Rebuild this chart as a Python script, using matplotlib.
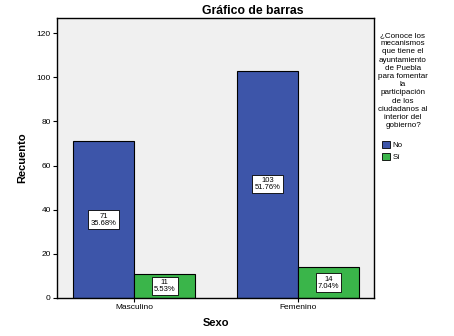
import numpy as np
import matplotlib
matplotlib.use('Agg')
import matplotlib.pyplot as plt
from matplotlib.patches import Patch

plt.rcParams['font.family'] = ['Liberation Sans', 'DejaVu Sans']

categories = ['Masculino', 'Femenino']
no_counts = [71, 103]
si_counts = [11, 14]
no_pct = [35.68, 51.76]
si_pct = [5.53, 7.04]
series_names = ['No', 'Sí']
legend_title = ('¿Conoce los\nmecanismos\nque tiene el\nayuntamiento\nde Puebla\n'
                'para fomentar\nla\nparticipación\nde los\nciudadanos al\n'
                'interior del\ngobierno?')

BLUE = '#3D55A9'
GREEN = '#3AB54A'
PANEL = '#F0F0F0'

fig = plt.figure(figsize=(4.54, 3.36), dpi=100, facecolor='white')
ax = fig.add_axes([57/454, 1 - 298/336, 317/454, 280/336])
ax.set_facecolor(PANEL)

x = np.arange(len(categories))
w = 0.372
bars_no = ax.bar(x - w/2, no_counts, w, color=BLUE, edgecolor='black', lw=0.8, zorder=2)
bars_si = ax.bar(x + w/2, si_counts, w, color=GREEN, edgecolor='black', lw=0.8, zorder=2)

box = dict(boxstyle='square,pad=0.28', fc='white', ec='black', lw=0.6)
for bars, vals, pcts in ((bars_no, no_counts, no_pct), (bars_si, si_counts, si_pct)):
    for b, v, p in zip(bars, vals, pcts):
        ax.text(b.get_x() + b.get_width()/2, v/2, f'{v}\n{p:.2f}%',
                ha='center', va='center', fontsize=5.5, linespacing=1.0,
                bbox=box, zorder=3)

ax.set_xlim(-0.47, 1.463)
ax.set_ylim(0, 126.8)
ax.set_yticks(range(0, 121, 20))
ax.set_xticks(x)
ax.set_xticklabels(categories)
ax.tick_params(axis='both', labelsize=6, length=3, width=0.8, pad=1.5, color='black')
for s in ax.spines.values():
    s.set_linewidth(1.0)

ax.set_xlabel('Sexo', fontsize=8, fontweight='bold', labelpad=5)
ax.set_ylabel('Recuento', fontsize=8, fontweight='bold', labelpad=7)

fig.text(253/454, 1 - 11/336, 'Gráfico de barras', ha='center', va='center',
         fontsize=8.8, fontweight='bold')

fig.text(403/454, 1 - 32/336, legend_title, ha='center', va='top',
         fontsize=5.8, linespacing=1.24)

handles = [Patch(fc=BLUE, ec='black', lw=0.6), Patch(fc=GREEN, ec='black', lw=0.6)]
fig.legend(handles, series_names, loc='upper left', bbox_to_anchor=(378/454, 1 - 137/336),
           frameon=False, fontsize=5.7, handlelength=1.0, handleheight=1.0,
           handletextpad=0.3, labelspacing=0.45, borderpad=0)

fig.savefig('out.png', dpi=100, facecolor='white')
